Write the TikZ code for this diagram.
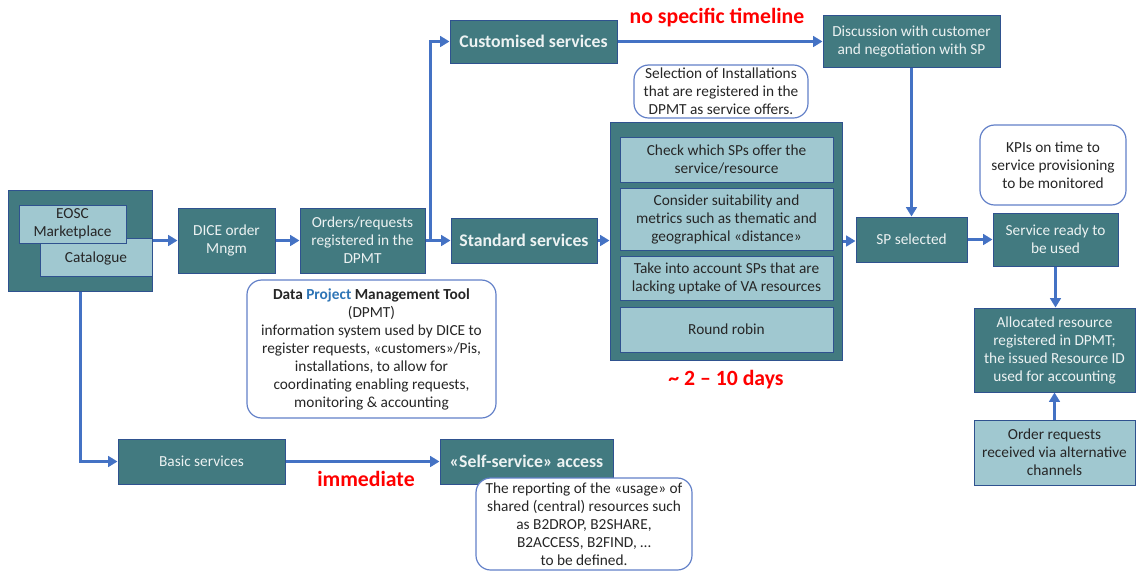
\documentclass[tikz,border=0pt]{standalone}
\usepackage{fontspec}
\setmainfont{Carlito}
\usetikzlibrary{arrows.meta}

\definecolor{tealdark}{RGB}{66,122,128}
\definecolor{teallight}{RGB}{160,200,208}
\definecolor{boxline}{RGB}{47,82,143}
\definecolor{noteline}{RGB}{98,128,200}
\definecolor{flowblue}{RGB}{68,114,196}
\definecolor{boxtext}{RGB}{236,242,242}
\definecolor{redtext}{RGB}{255,0,0}
\definecolor{projblue}{RGB}{46,117,182}

\begin{document}
\begin{tikzpicture}[x=0.75pt,y=0.75pt,yscale=-1,xscale=1,
  darkbox/.style={draw=boxline,line width=0.75pt,fill=tealdark,text=boxtext,align=center,inner sep=1pt,font=\fontsize{11.5pt}{13.5pt}\selectfont},
  lightbox/.style={draw=boxline,line width=0.75pt,fill=teallight,text=black!85,align=center,inner sep=1pt,font=\fontsize{11.5pt}{13.5pt}\selectfont},
  notebox/.style={draw=noteline,line width=0.9pt,fill=white,rounded corners=11pt,text=black!85,align=center,inner sep=1pt,font=\fontsize{11.5pt}{13.5pt}\selectfont},
  headbox/.style={darkbox,font=\fontsize{13.3pt}{15pt}\selectfont\bfseries},
  redlabel/.style={text=redtext,inner sep=0.75pt,font=\fontsize{16.3pt}{18pt}\selectfont\bfseries},
  flow/.style={draw=flowblue,line width=2.25pt,-{Triangle[length=7pt,width=8pt]}}
]
%set diagram area: 1136 x 572
\useasboundingbox (0,0) rectangle (1136,572);

%Shape: Rectangle -- EOSC frame
\node [darkbox,minimum width=108pt,minimum height=75.75pt] (eoscframe) at (80,240.5) {};
\node [lightbox,minimum width=84pt,minimum height=28.5pt] (catalogue) at (96,257) {};
\node [lightbox,minimum width=80.25pt,minimum height=28.5pt] (market) at (72.5,224) {EOSC\\Marketplace};
\node [inner sep=0pt,text=black!85,font=\fontsize{11.5pt}{13.5pt}\selectfont] (catlabel) at (96,258) {Catalogue};

%Shape: Rectangle -- order chain
\node [darkbox,minimum width=72.75pt,minimum height=48.75pt] (dice) at (226.5,240.5) {DICE order\\Mngm};
\node [darkbox,minimum width=93.75pt,minimum height=48.75pt] (orders) at (362.5,240.5) {Orders/requests\\registered in the\\DPMT};
\node [headbox,minimum width=109.5pt,minimum height=33.75pt] (standard) at (524,240.5) {Standard services};
\node [headbox,minimum width=125.25pt,minimum height=32.25pt] (customised) at (533.5,41.5) {Customised services};
\node [darkbox,minimum width=132.75pt,minimum height=39pt] (discussion) at (911.5,41.5) {Discussion with customer\\and negotiation with SP};

%Shape: Rectangle -- SP selection block
\node [darkbox,minimum width=174pt,minimum height=178.5pt] (spframe) at (726,241) {};
\node [lightbox,minimum width=159.75pt,minimum height=33.75pt] (check) at (726.5,159.5) {Check which SPs offer the\\service/resource};
\node [lightbox,minimum width=159.75pt,minimum height=46.5pt] (consider) at (726.5,219) {Consider suitability and\\metrics such as thematic and\\geographical «distance»};
\node [lightbox,minimum width=159.75pt,minimum height=33pt] (takeinto) at (726.5,278) {Take into account SPs that are\\lacking uptake of VA resources};
\node [lightbox,minimum width=159.75pt,minimum height=33.75pt] (robin) at (726.5,329.5) {Round robin};

\node [darkbox,minimum width=83.25pt,minimum height=33.75pt] (spsel) at (911.5,239.5) {SP selected};
\node [darkbox,minimum width=93.75pt,minimum height=39.75pt] (ready) at (1055.5,239.5) {Service ready to\\be used};
\node [darkbox,minimum width=120.75pt,minimum height=63pt] (alloc) at (1054.5,350) {Allocated resource\\registered in DPMT;\\the issued Resource ID\\used for accounting};
\node [lightbox,minimum width=120.75pt,minimum height=48.75pt] (orderreq) at (1054.5,452.5) {Order requests\\received via alternative\\channels};

%Shape: Rectangle -- basic branch
\node [darkbox,minimum width=125.25pt,minimum height=33.75pt] (basic) at (201.5,461.5) {Basic services};
\node [headbox,minimum width=129.75pt,minimum height=33.75pt] (selfserv) at (526.5,461.5) {«Self-service» access};

%Shape: Rounded Rect -- notes
\node [notebox,minimum width=130.5pt,minimum height=39.75pt] (selnote) at (721,91.5) {Selection of Installations\\that are registered in the\\DPMT as service offers.};
\node [notebox,minimum width=109.5pt,minimum height=60pt] (kpinote) at (1053,165) {KPIs on time to\\service provisioning\\to be monitored};
\node [notebox,minimum width=186.75pt,minimum height=103.5pt] (dpmtnote) at (371.5,349) {\textbf{Data \textcolor{projblue}{Project} Management Tool}\\(DPMT)\\information system used by DICE to\\register requests, «customers»/Pis,\\installations, to allow for\\coordinating enabling requests,\\monitoring \& accounting};
\node [notebox,minimum width=162pt,minimum height=69pt] (repnote) at (584,524) {The reporting of the «usage» of\\shared (central) resources such\\as B2DROP, B2SHARE,\\B2ACCESS, B2FIND, …\\to be defined.};

% Text Node
\node [redlabel] (notime) at (717,18) {no specific timeline};
\node [redlabel] (days) at (726,380) {\textasciitilde{} 2 – 10 days};
\node [redlabel] (immediate) at (366,479) {immediate};

%Straight Lines
\coordinate (split) at (430,240.5);
\draw [flow] (eoscframe.east) -- (dice.west);
\draw [flow] (dice.east) -- (orders.west);
\draw [flow] (orders.east) -- (standard.west);
\draw [flow] (split) |- (customised.west);
\draw [flow] (customised.east) -- (customised.east -| discussion.west);
\draw [flow] (standard.east) -- (standard.east -| spframe.west);
\draw [flow] (spframe.east) -- (spframe.east -| spsel.west);
\draw [flow] (discussion.south) -- (spsel.north);
\draw [flow] (spsel.east) -- (ready.west);
\draw [flow] (ready.south) -- (ready.south |- alloc.north);
\draw [flow] (orderreq.north) -- (alloc.south);
\draw [flow] (eoscframe.south) |- (basic.west);
\draw [flow] (basic.east) -- (selfserv.west);

\end{tikzpicture}
\end{document}
